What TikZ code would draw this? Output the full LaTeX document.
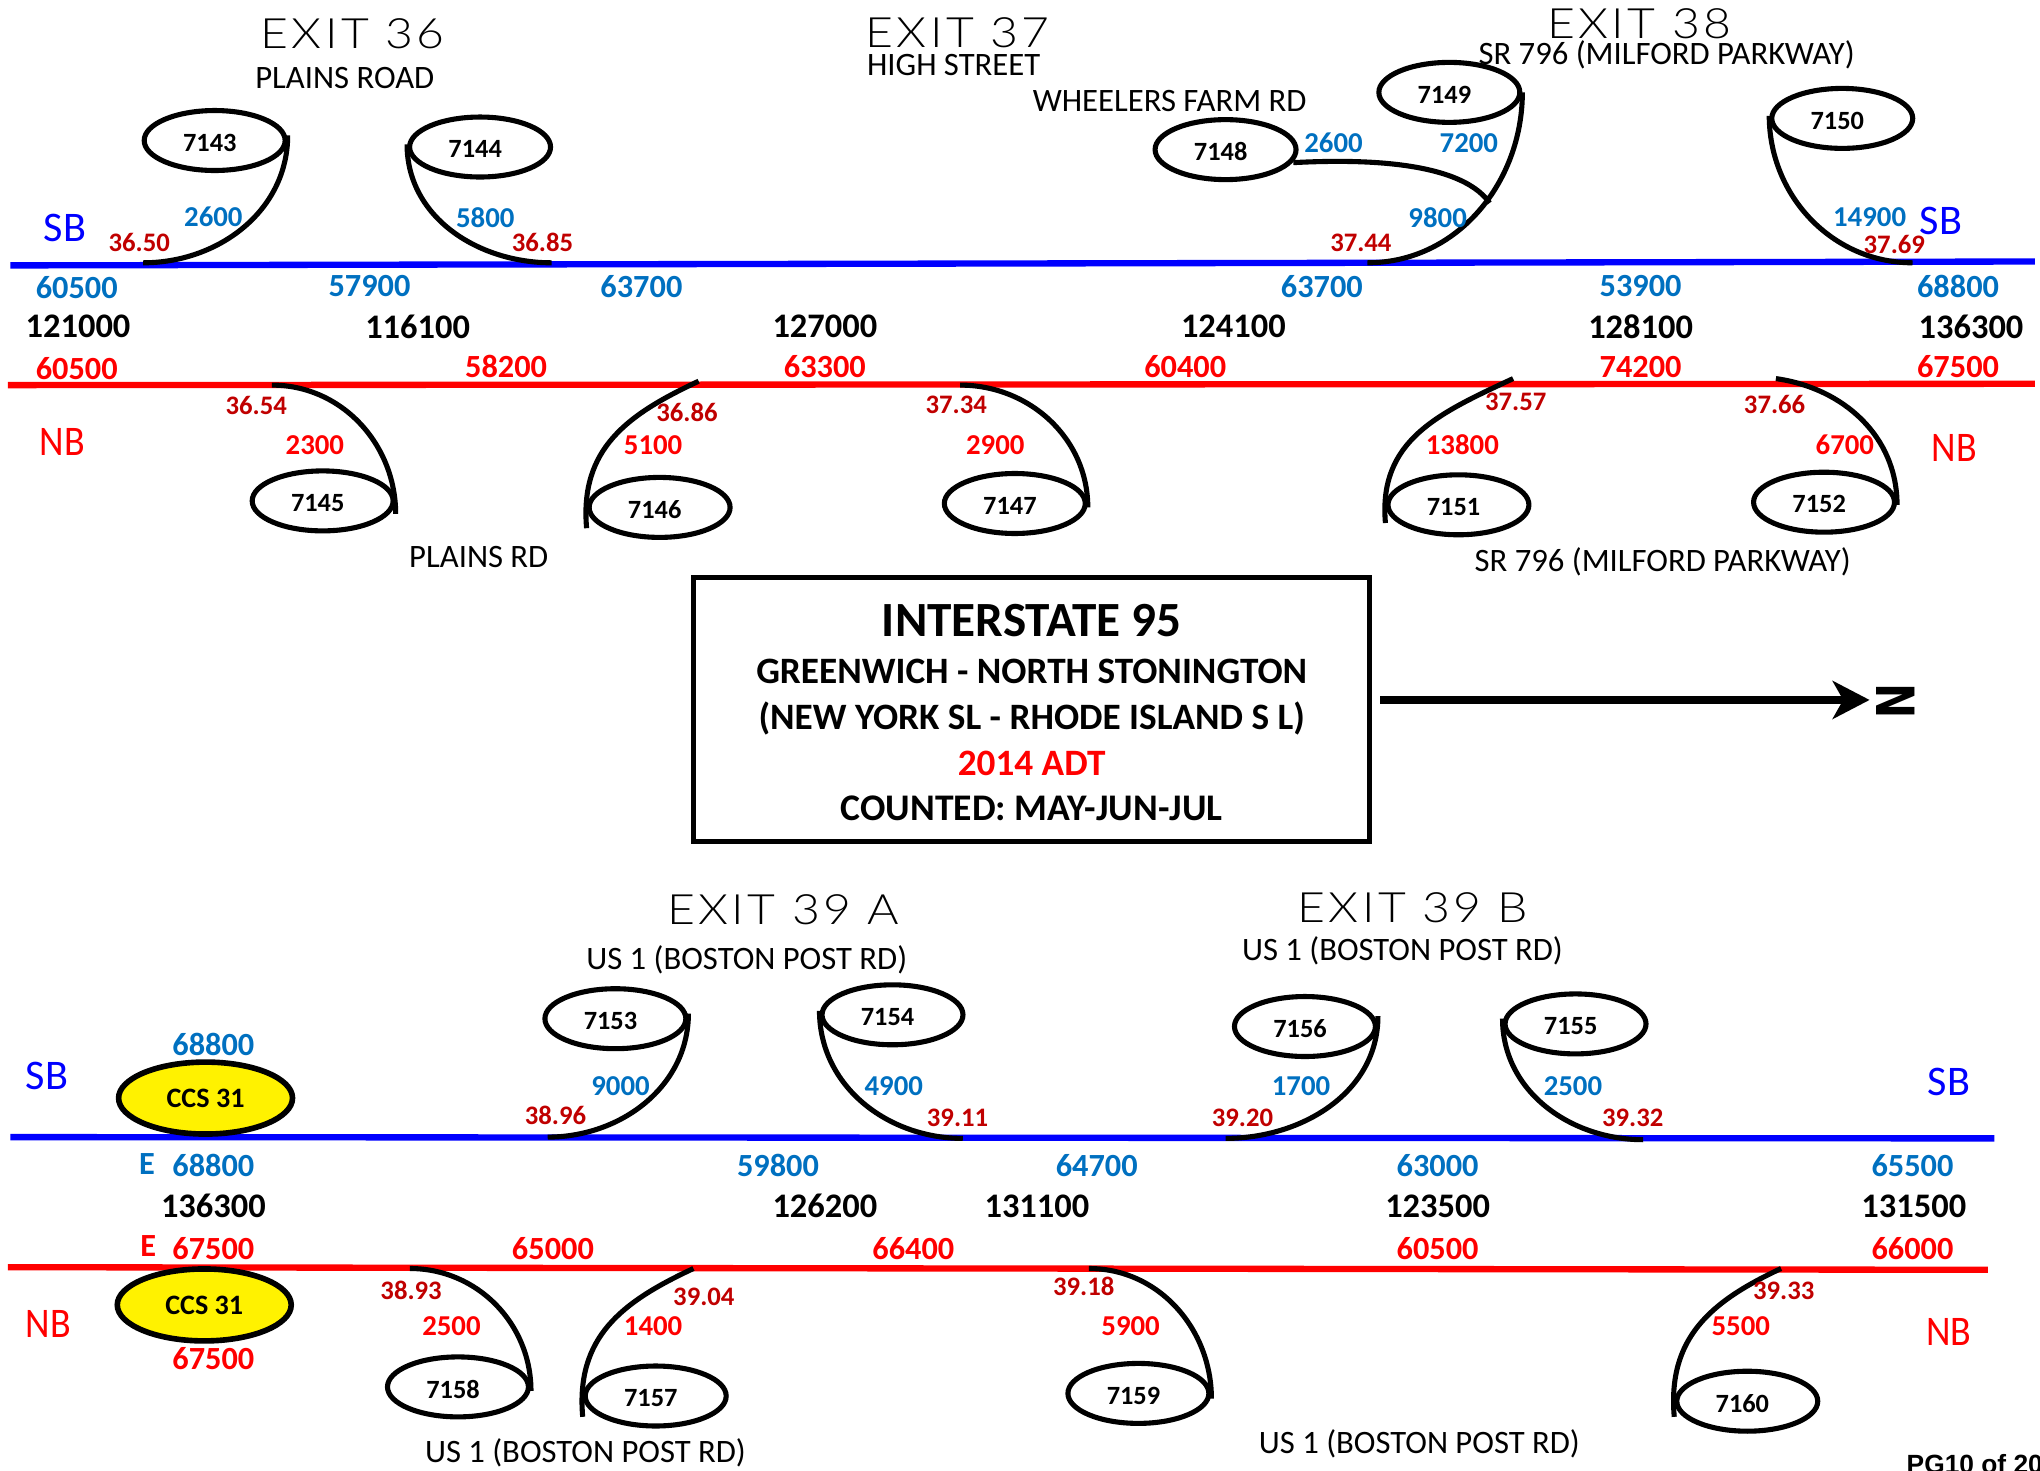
\documentclass[tikz,border=0pt]{standalone}
\usepackage{fontspec}
\setmainfont{Carlito}
\newfontfamily\exitfont[FakeStretch=1.15,LetterSpace=8]{Lato Light}
\newfontfamily\pagefont{Liberation Sans}
\newfontfamily\northfont{DejaVu Sans}
\usetikzlibrary{shapes.geometric,calc,arrows.meta}
\definecolor{flowblue}{HTML}{0070C0}
\definecolor{milered}{HTML}{C00000}
\tikzset{
	station/.style = {ellipse, draw=black, line width=1.45pt, fill=white, minimum width=1.41cm, minimum height=0.6cm, inner sep=0pt, font=\bfseries\fontsize{7.5}{9}\selectfont},
	counter/.style = {ellipse, draw=black, line width=1.6pt, fill=yellow, minimum width=1.74cm, minimum height=0.72cm, inner sep=0pt, font=\bfseries\fontsize{8}{10}\selectfont},
	ramp/.style = {line width=1.45pt, line cap=butt},
	sbroad/.style = {line width=1.8pt, blue},
	nbroad/.style = {line width=1.8pt, red},
	exitname/.style = {font=\exitfont\fontsize{11.9}{15}\selectfont},
	roadname/.style = {font=\fontsize{9.3}{11}\selectfont},
	dirlabel/.style = {font=\fontsize{12}{14}\selectfont},
	mainflow/.style = {font=\bfseries\fontsize{9.2}{11}\selectfont},
	total/.style = {font=\bfseries\fontsize{9.8}{12}\selectfont},
	rampflow/.style = {font=\bfseries\fontsize{8.2}{10}\selectfont},
	milepost/.style = {text=milered, font=\bfseries\fontsize{7.6}{9}\selectfont}
}
\begin{document}
\begin{tikzpicture}[x=0.01301cm, y=-0.01301cm]
	\useasboundingbox (0,0) rectangle (1568,1130);

	% main lines
	\coordinate (sbAw) at (8,204);
	\coordinate (sbAe) at (1564,201);
	\coordinate (nbAw) at (6,296);
	\coordinate (nbAe) at (1564,295);
	\coordinate (sbBw) at (8,874);
	\coordinate (sbBe) at (1533,875);
	\coordinate (nbBw) at (6,974);
	\coordinate (nbBe) at (1528,976);
	\draw[sbroad] (sbAw) -- (sbAe);
	\draw[nbroad] (nbAw) -- (nbAe);
	\draw[sbroad] (sbBw) -- (sbBe);
	\draw[nbroad] (nbBw) -- (nbBe);

	% count stations
	\foreach \id/\cx/\cy in {7143/165/108, 7144/369/113, 7145/248/385, 7146/507/390, 7147/780/387,
		7148/942/115, 7149/1114/71, 7150/1416/91, 7151/1121/388, 7152/1402/386,
		7153/473/783, 7154/686/780, 7155/1211/787, 7156/1003/789,
		7157/504/1073, 7158/352/1066, 7159/875/1071, 7160/1343/1077} {
		\node[station] (s\id) at (\cx,\cy) {\raisebox{-0.6pt}[\height][0pt]{\id}\rule{2.8pt}{0pt}};
	}
	\node[counter] (ccsA) at (158,844) {CCS 31};
	\node[counter] (ccsB) at (157,1003) {CCS 31};

	% ramps
	\foreach \id/\side/\dy/\ex/\ey/\oa/\ob/\lo in {7143/east/-4/110/202/-90/0/1, 7144/west/-2/424/202/-90/180/1,
		7150/west/-2/1470/202/-90/180/1, 7149/east/0/1051/202/-90/0/1,
		7145/east/10/209/296/90/0/1, 7146/west/16/537/293/95/205/1.1, 7147/east/3/738/296/90/0/1,
		7151/west/14/1163/291/95/205/1.1, 7152/east/2/1365/291/90/-8/1,
		7153/east/-4/421/874/-90/0/1, 7154/west/-3/740/875/-90/180/1,
		7156/east/-8/942/875/-90/0/1, 7155/west/-4/1263/876/-90/180/1,
		7158/east/3/315/975/90/0/1, 7157/west/16/533/975/95/205/1.1,
		7159/east/4/837/975/90/0/1, 7160/west/12/1369/975/95/205/1.1} {
		\coordinate (r\id) at (\ex,\ey);
		\draw[ramp] ($(s\id.\side)+(0,\dy)$) to[out=\oa, in=\ob, looseness=\lo] (r\id);
	}
	\coordinate (r7148) at (1145,156);
	\draw[ramp] ($(s7148.east)+(-4,10)$) to[out=3, in=125, looseness=0.7] (r7148);

	% exit and road names
	\foreach \cx/\cy/\txt [count=\i] in {271/26/EXIT 36, 736/25/EXIT 37, 1260/18/EXIT 38, 602/699/EXIT 39 A, 1086/698/EXIT 39 B} {
		\node[exitname] (exit\i) at (\cx,\cy) {\txt};
	}
	\foreach \cx/\cy/\txt [count=\i] in {265/60/PLAINS ROAD, 733/50/HIGH STREET, 899/78/WHEELERS FARM RD,
		1281/42/SR 796 (MILFORD PARKWAY), 368/428/PLAINS RD, 1278/432/SR 796 (MILFORD PARKWAY),
		574/738/US 1 (BOSTON POST RD), 1078/731/US 1 (BOSTON POST RD),
		450/1117/US 1 (BOSTON POST RD), 1091/1110/US 1 (BOSTON POST RD)} {
		\node[roadname] (road\i) at (\cx,\cy) {\txt};
	}

	% direction labels
	\foreach \cx/\cy [count=\i] in {50/175, 1492/170, 36/827, 1498/832} {
		\node[dirlabel, text=blue] (sb\i) at (\cx,\cy) {SB};
	}
	\foreach \cx/\cy [count=\i] in {48/340, 1502/344, 37/1018, 1498/1024} {
		\node[dirlabel, text=red] (nb\i) at (\cx,\cy) {\scalebox{0.9}[1]{NB}};
	}

	% mainline volumes
	\foreach \cx/\cy/\txt [count=\i] in {59/221/60500, 284/220/57900, 493/220/63700, 1016/220/63700, 1261/220/53900, 1505/220/68800,
		164/803/68800, 164/896/68800, 598/896/59800, 843/896/64700, 1105/896/63000, 1470/896/65500, 113/895/E} {
		\node[mainflow, text=flowblue] (fb\i) at (\cx,\cy) {\txt};
	}
	\foreach \cx/\cy/\txt [count=\i] in {59/283/60500, 389/282/58200, 634/282/63300, 911/282/60400, 1261/282/74200, 1505/282/67500,
		164/960/67500, 425/960/65000, 702/960/66400, 1105/960/60500, 1470/960/66000, 164/1044/67500, 114/958/E} {
		\node[mainflow, text=red] (fr\i) at (\cx,\cy) {\txt};
	}
	\foreach \cx/\cy/\txt [count=\i] in {60/251/121000, 321/251/116100, 634/251/127000, 948/251/124100, 1261/251/128100, 1515/251/136300,
		164/927/136300, 634/927/126200, 797/927/131100, 1105/927/123500, 1471/927/131500} {
		\node[total] (tot\i) at (\cx,\cy) {\txt};
	}

	% ramp volumes
	\foreach \cx/\cy/\txt [count=\i] in {164/167/2600, 373/167/5800, 1025/110/2600, 1129/110/7200, 1105/167/9800, 1437/167/14900,
		477/835/9000, 687/835/4900, 1000/835/1700, 1209/835/2500} {
		\node[rampflow, text=flowblue] (rb\i) at (\cx,\cy) {\txt};
	}
	\foreach \cx/\cy/\txt [count=\i] in {242/342/2300, 502/342/5100, 765/342/2900, 1124/342/13800, 1418/342/6700,
		347/1019/2500, 502/1019/1400, 869/1019/5900, 1338/1019/5500} {
		\node[rampflow, text=red] (rr\i) at (\cx,\cy) {\txt};
	}

	% mileposts
	\foreach \cx/\cy/\txt [count=\i] in {107/186/36.50, 417/186/36.85, 1046/187/37.44, 1456/188/37.69,
		197/312/36.54, 528/317/36.86, 735/311/37.34, 1165/309/37.57, 1364/311/37.66,
		427/857/38.96, 736/859/39.11, 955/859/39.20, 1255/859/39.32,
		316/992/38.93, 541/997/39.04, 833/989/39.18, 1371/992/39.33} {
		\node[milepost] (mp\i) at (\cx,\cy) {\txt};
	}

	% title box
	\node[draw=black, line width=1.4pt, minimum width=6.76cm, minimum height=2.64cm] (titlebox) at (793,545.5) {};
	\node[font=\bfseries\fontsize{14}{16}\selectfont] (titleA) at (793,477) {INTERSTATE 95};
	\node[font=\bfseries\fontsize{10.6}{13}\selectfont] (titleB) at (793,516) {GREENWICH - NORTH STONINGTON};
	\node[font=\bfseries\fontsize{10.6}{13}\selectfont] (titleC) at (793,552) {(NEW YORK SL - RHODE ISLAND S L)};
	\node[font=\bfseries\fontsize{10.6}{13}\selectfont, text=red] (titleD) at (793,587) {2014 ADT};
	\node[font=\bfseries\fontsize{10.7}{13}\selectfont] (titleE) at (793,621) {COUNTED: MAY-JUN-JUL};

	% north arrow
	\coordinate (arrowtail) at (1061,538);
	\node[rotate=-90, inner sep=0pt, font=\northfont\bfseries\fontsize{15}{17}\selectfont] (north) at (1457,539) {\scalebox{0.8}[1]{N}};
	\draw[line width=2.2pt, -{Stealth[length=10.5pt, width=10.8pt, inset=3pt]}] (arrowtail) -- (1437,538);

	\node[anchor=west, inner sep=0pt, font=\pagefont\bfseries\fontsize{7.5}{9}\selectfont] (pagemark) at (1465,1125) {PG10 of 20};
\end{tikzpicture}
\end{document}
